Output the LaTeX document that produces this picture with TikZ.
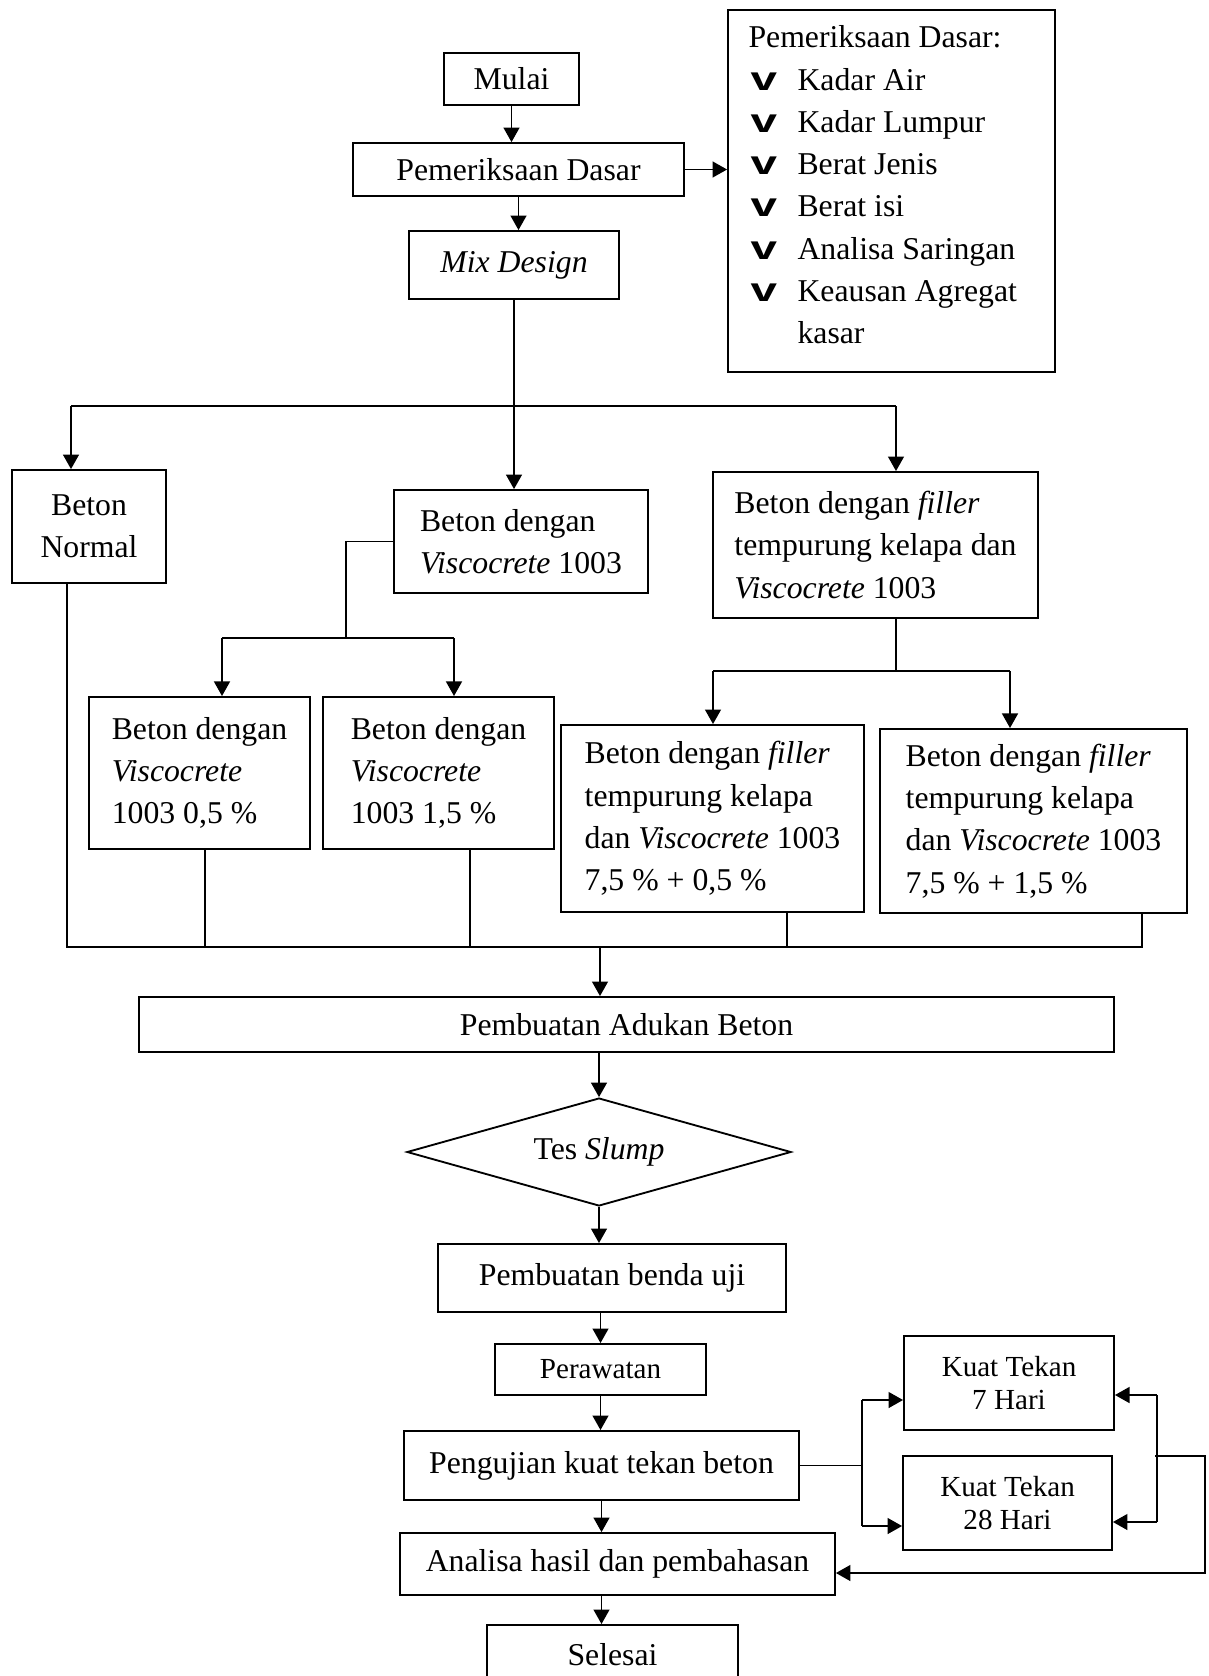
\documentclass[tikz,border=0pt]{standalone}
\usepackage{fontspec}
\setmainfont{Liberation Serif}
\newfontfamily\tickfont{Liberation Sans}
\usepackage{graphicx}
\usetikzlibrary{arrows.meta,shapes.geometric}

\newcommand{\cekmark}{\scalebox{1.5}[1.05]{\tickfont\bfseries v}}

\begin{document}
\begin{tikzpicture}[x=0.378pt,y=-0.378pt,font=\fontsize{12}{16}\selectfont,
  box/.style={draw,line width=0.7pt,inner sep=0pt},
  kecil/.style={box,font=\fontsize{11}{12.2}\selectfont},
  daftar/.style={anchor=base west,inner sep=0pt},
  garis/.style={line width=0.7pt},
  arr/.style={line width=0.7pt,-{Triangle[length=5.5pt,width=6pt]}}]
\useasboundingbox (0,0) rectangle (1209,1676);
\clip (0,0) rectangle (1209,1676);

% bagian atas
\node[box,minimum width=51pt,minimum height=19.7pt] (mulai) at (511.5,79) {Mulai};
\node[box,minimum width=125.1pt,minimum height=20pt] (periksa) at (518.5,169.5) {Pemeriksaan Dasar};
\node[box,minimum width=79.4pt,minimum height=25.7pt] (mix) at (514,265) {\textit{Mix Design}};
\node[box,minimum width=123.6pt,minimum height=136.8pt] (cek) at (891.5,191) {};
\node[daftar] (cekjudul) at (748,48) {Pemeriksaan Dasar:};
\foreach \teks [count=\i] in {Kadar Air,Kadar Lumpur,Berat Jenis,Berat isi,Analisa Saringan,Keausan Agregat} {
  \node[daftar] (tanda\i) at (750,{48+42.2*\i}) {\cekmark};
  \node[daftar] (item\i) at (797,{48+42.2*\i}) {\teks};
}
\node[daftar] (item7) at (797,343) {kasar};

\draw[arr] (mulai.south) -- (mulai.south |- periksa.north);
\draw[arr] (periksa.south) -- (periksa.south |- mix.north);
\draw[arr] (periksa.east) -- (periksa.east -| cek.west);

% variasi beton
\node[box,align=center,minimum width=58.2pt,minimum height=42.7pt] (normal) at (89,526.5) {Beton\\Normal};
\node[box,align=left,minimum width=96pt,minimum height=38.9pt] (visko) at (521,541.5) {Beton dengan\\\textit{Viscocrete} 1003};
\node[box,align=left,minimum width=122.9pt,minimum height=55.2pt] (filler) at (875.5,545) {Beton dengan \textit{filler}\\tempurung kelapa dan\\\textit{Viscocrete} 1003};
\node[box,align=left,minimum width=83.5pt,minimum height=57.5pt] (viskoA) at (199.5,773) {Beton dengan\\\textit{Viscocrete}\\1003 0,5 \%};
\node[box,align=left,minimum width=87.3pt,minimum height=57.5pt] (viskoB) at (438.5,773) {Beton dengan\\\textit{Viscocrete}\\1003 1,5 \%};
\node[box,align=left,minimum width=114.5pt,minimum height=70.7pt] (fillerA) at (712.5,818.5) {Beton dengan \textit{filler}\\tempurung kelapa\\dan \textit{Viscocrete} 1003\\7,5 \% + 0,5 \%};
\node[box,align=left,minimum width=116pt,minimum height=69.6pt] (fillerB) at (1033.5,821) {Beton dengan \textit{filler}\\tempurung kelapa\\dan \textit{Viscocrete} 1003\\7,5 \% + 1,5 \%};

\coordinate (busL) at (71,406);
\coordinate (busR) at (896,406);
\draw[garis] (mix.south) -- (mix.south |- busL);
\draw[garis] (busL) -- (busR);
\draw[arr] (busL) -- (busL |- normal.north);
\draw[arr] (mix.south |- busL) -- (mix.south |- visko.north);
\draw[arr] (busR) -- (busR |- filler.north);

\coordinate (vk) at (346,638);
\coordinate (vkL) at (222,638);
\coordinate (vkR) at (454,638);
\draw[garis] (visko.west) -| (vk);
\draw[garis] (vkL) -- (vkR);
\draw[arr] (vkL) -- (vkL |- viskoA.north);
\draw[arr] (vkR) -- (vkR |- viskoB.north);

\coordinate (fl) at (896,671);
\coordinate (flL) at (713,671);
\coordinate (flR) at (1010,671);
\draw[garis] (fl |- filler.south) -- (fl);
\draw[garis] (flL) -- (flR);
\draw[arr] (flL) -- (flL |- fillerA.north);
\draw[arr] (flR) -- (flR |- fillerB.north);

% pengumpul
\coordinate (kmL) at (67,947);
\coordinate (kmR) at (1142,947);
\coordinate (km) at (600,947);
\draw[garis] (kmL |- normal.south) -- (kmL) -- (kmR) -- (kmR |- fillerB.south);
\draw[garis] (205,947) -- (205,849);
\draw[garis] (470,947) -- (470,849);
\draw[garis] (787,947) -- (787,912);

% bagian bawah
\node[box,minimum width=368.6pt,minimum height=20.8pt] (adukan) at (626.5,1024.5) {Pembuatan Adukan Beton};
\node[draw,line width=0.7pt,diamond,aspect=3.5,inner sep=0pt,minimum width=145.2pt,minimum height=40.8pt] (slump) at (599,1152) {Tes \textit{Slump}};
\node[box,minimum width=131.5pt,minimum height=25.7pt] (benda) at (612,1278) {Pembuatan benda uji};
\node[kecil,minimum width=79.8pt,minimum height=19.3pt] (rawat) at (600.5,1369.5) {Perawatan};
\node[box,minimum width=149.3pt,minimum height=26.1pt] (uji) at (601.5,1465.5) {Pengujian kuat tekan beton};
\node[box,minimum width=164.4pt,minimum height=23.4pt] (analisa) at (617.5,1564) {Analisa hasil dan pembahasan};
\node[box,minimum width=94.9pt,minimum height=22.7pt] (selesai) at (612.5,1655) {Selesai};
\node[kecil,align=center,minimum width=79.4pt,minimum height=35.5pt] (hari7) at (1009,1383) {Kuat Tekan\\7 Hari};
\node[kecil,align=center,minimum width=79pt,minimum height=35.5pt] (hari28) at (1007.5,1503) {Kuat Tekan\\28 Hari};

\draw[arr] (km) -- (km |- adukan.north);
\draw[arr] (slump.north |- adukan.south) -- (slump.north);
\draw[arr] (slump.south) -- (slump.south |- benda.north);
\draw[arr] (rawat.north |- benda.south) -- (rawat.north);
\draw[arr] (rawat.south) -- (rawat.south |- uji.north);
\draw[arr] (uji.south) -- (uji.south |- analisa.north);
\draw[arr] (uji.south |- analisa.south) -- (uji.south |- selesai.north);

\coordinate (kiri7) at (862,1400);
\coordinate (kiri28) at (862,1526);
\draw[garis] (uji.east) -- (uji.east -| kiri7);
\draw[garis] (kiri7) -- (kiri28);
\draw[arr] (kiri7) -- (kiri7 -| hari7.west);
\draw[arr] (kiri28) -- (kiri28 -| hari28.west);

\coordinate (kanan7) at (1157,1395);
\coordinate (kanan28) at (1157,1522);
\draw[garis] (kanan7) -- (kanan28);
\draw[arr] (kanan7) -- (kanan7 -| hari7.east);
\draw[arr] (kanan28) -- (kanan28 -| hari28.east);

\coordinate (lpA) at (1155,1456);
\coordinate (lpB) at (1205,1456);
\coordinate (lpC) at (1205,1573);
\draw[arr] (lpA) -- (lpB) -- (lpC) -- (lpC -| analisa.east);
\end{tikzpicture}
\end{document}
